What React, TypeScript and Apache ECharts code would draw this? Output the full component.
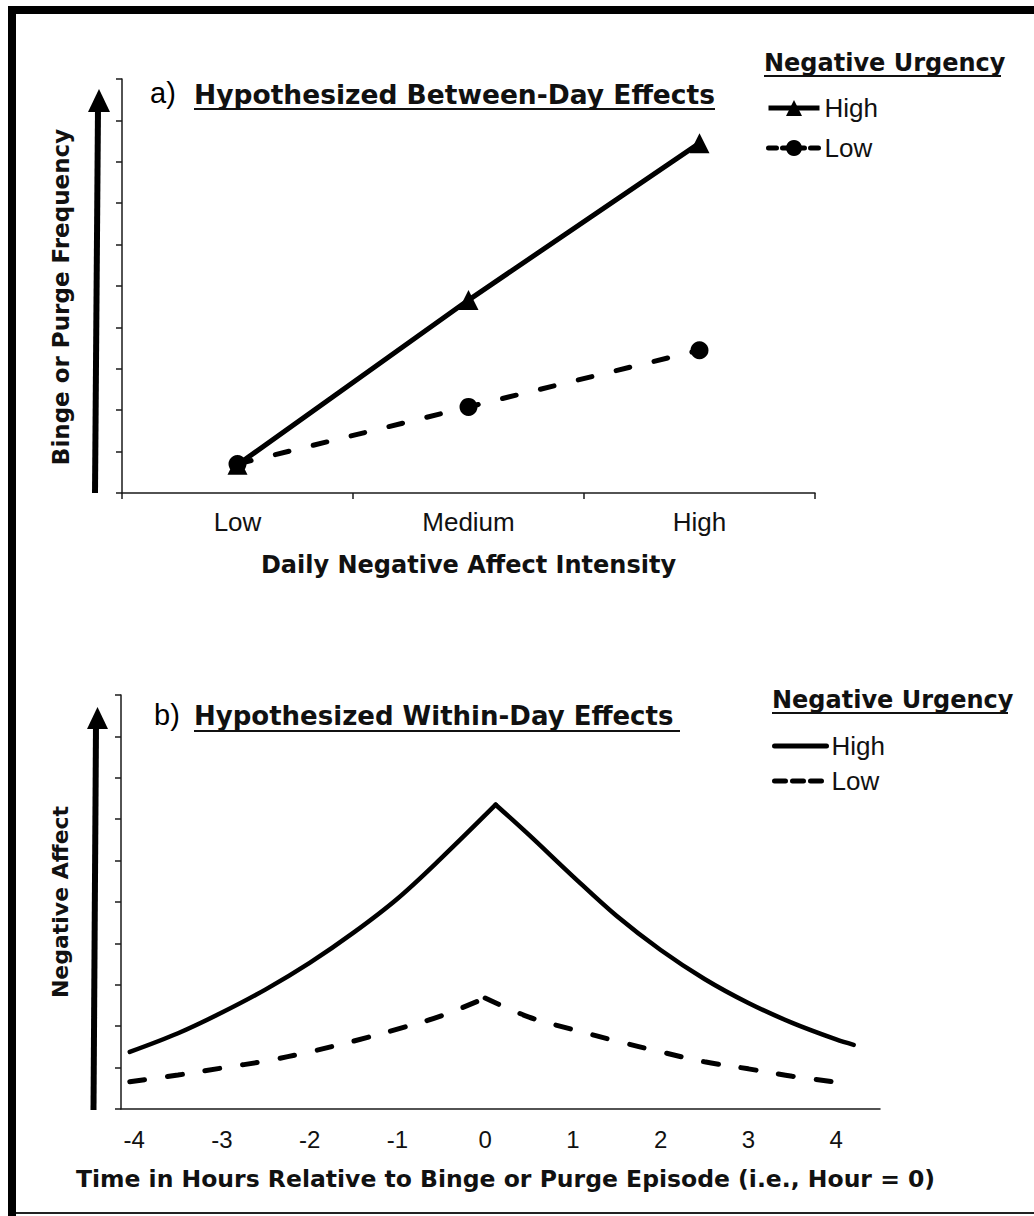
import React, { useEffect, useRef } from 'react';
import * as echarts from 'echarts';

// ---- Panel a: between-day effects ----
const affectLevels = ['Low', 'Medium', 'High'];
const betweenHighUrgency = [0.68, 4.66, 8.45];
const betweenLowUrgency = [0.7, 2.08, 3.45];

// ---- Panel b: within-day effects ----
const hourTicks = [-4, -3, -2, -1, 0, 1, 2, 3, 4];
const highRiseHours = [-4.05, -3.5, -3, -2.5, -2, -1.5, -1, -0.5, 0.12];
const highRiseValues = [1.38, 1.83, 2.33, 2.89, 3.53, 4.26, 5.08, 6.06, 7.35];
const highFallHours = [0.12, 0.5, 1, 1.5, 2, 2.5, 3, 3.5, 4, 4.2];
const highFallValues = [7.35, 6.62, 5.62, 4.66, 3.84, 3.14, 2.56, 2.08, 1.68, 1.55];
const lowRiseHours = [-4.05, -3.5, -3, -2.5, -2, -1.5, -1, -0.5, 0];
const lowRiseValues = [0.66, 0.82, 0.99, 1.16, 1.38, 1.64, 1.93, 2.25, 2.68];
const lowFallHours = [0, 0.5, 1, 1.5, 2, 2.5, 3, 3.5, 4];
const lowFallValues = [2.68, 2.22, 1.92, 1.64, 1.38, 1.14, 0.97, 0.79, 0.65];

const BOLD = "'DejaVu Sans', sans-serif";
const REG = "'Liberation Sans', Arial, sans-serif";
const INK = '#000';

const zip = (h: number[], v: number[]) => h.map((x, i) => [x, v[i]]);

export default function App() {
  const ref = useRef<HTMLDivElement>(null);

  useEffect(() => {
    const chart = echarts.init(ref.current!, null, { renderer: 'svg' });
    const axisLine = { color: '#1a1a1a', width: 1.5 };
    const nameStyle = { color: '#111', fontFamily: BOLD, fontWeight: 'bold' as const };
    const solidB = { color: INK, width: 4.5, type: 'solid' as const, cap: 'round' as const };
    const dashB = { color: INK, width: 5, type: [15, 23], cap: 'round' as const };
    const withinName = ' (within-day)';

    const option: any = {
      animation: false,
      backgroundColor: '#ffffff',
      grid: [
        { left: 122, top: 79, width: 693, height: 414 },
        { left: 121, top: 695, width: 759, height: 414 },
      ],
      xAxis: [
        {
          gridIndex: 0,
          type: 'category',
          data: affectLevels,
          boundaryGap: true,
          axisLine: { lineStyle: axisLine },
          axisTick: { show: true, length: 6, lineStyle: axisLine },
          axisLabel: { color: '#111', fontFamily: REG, fontSize: 26, margin: 16 },
          name: 'Daily Negative Affect Intensity',
          nameLocation: 'middle',
          nameGap: 60,
          nameTextStyle: { ...nameStyle, fontSize: 24 },
        },
        {
          gridIndex: 1,
          type: 'value',
          min: -4.15,
          max: 4.5,
          axisLine: { onZero: false, lineStyle: axisLine },
          axisTick: { show: false },
          splitLine: { show: false },
          axisLabel: {
            customValues: hourTicks,
            formatter: (v: number) => String(v),
            color: '#111',
            fontFamily: REG,
            fontSize: 24,
            margin: 18,
          },
          name: 'Time in Hours Relative to Binge or Purge Episode (i.e., Hour = 0)',
          nameLocation: 'middle',
          nameGap: 58,
          nameTextStyle: { ...nameStyle, fontSize: 23.5, padding: [0, 0, 0, 10] },
        },
      ],
      yAxis: [
        {
          gridIndex: 0,
          type: 'value',
          min: 0,
          max: 10,
          interval: 1,
          axisLine: { show: true, onZero: false, lineStyle: axisLine },
          axisTick: { show: true, length: 6, lineStyle: axisLine },
          axisLabel: { show: false },
          splitLine: { show: false },
          name: 'Binge or Purge Frequency',
          nameLocation: 'middle',
          nameRotate: 90,
          nameGap: 50,
          nameTextStyle: { ...nameStyle, fontSize: 23, padding: [0, 22, 0, 0] },
        },
        {
          gridIndex: 1,
          type: 'value',
          min: 0,
          max: 10,
          interval: 1,
          axisLine: { show: true, onZero: false, lineStyle: axisLine },
          axisTick: { show: true, length: 6, lineStyle: axisLine },
          axisLabel: { show: false },
          splitLine: { show: false },
          name: 'Negative Affect',
          nameLocation: 'middle',
          nameRotate: 90,
          nameGap: 50,
          nameTextStyle: { ...nameStyle, fontSize: 22 },
        },
      ],
      legend: [
        {
          orient: 'vertical',
          left: 766,
          top: 95,
          padding: 0,
          itemWidth: 51,
          itemHeight: 20,
          itemGap: 14,
          selectedMode: false,
          lineStyle: { width: 5 },
          data: ['High', { name: 'Low', lineStyle: { type: [8, 6] } }],
          textStyle: { fontFamily: REG, fontSize: 26, color: '#111' },
        },
        {
          orient: 'vertical',
          left: 772,
          top: 733,
          padding: 0,
          itemWidth: 52,
          itemHeight: 20,
          itemGap: 9,
          selectedMode: false,
          lineStyle: { width: 5 },
          data: [
            { name: 'High' + withinName, itemStyle: { opacity: 0 } },
            { name: 'Low' + withinName, itemStyle: { opacity: 0 }, lineStyle: { type: [11, 7] } },
          ],
          formatter: (n: string) => n.replace(withinName, ''),
          textStyle: { fontFamily: REG, fontSize: 26, color: '#111' },
        },
      ],
      series: [
        {
          name: 'High',
          type: 'line',
          xAxisIndex: 0,
          yAxisIndex: 0,
          data: betweenHighUrgency,
          symbol: 'triangle',
          symbolSize: [20, 20],
          lineStyle: { color: INK, width: 5 },
          itemStyle: { color: INK },
          z: 3,
        },
        {
          name: 'Low',
          type: 'line',
          xAxisIndex: 0,
          yAxisIndex: 0,
          data: betweenLowUrgency,
          symbol: 'circle',
          symbolSize: 18,
          lineStyle: { color: INK, width: 5, type: [14, 25], cap: 'round' },
          itemStyle: { color: INK },
          z: 4,
        },
        {
          name: 'High' + withinName,
          type: 'line',
          xAxisIndex: 1,
          yAxisIndex: 1,
          data: zip(highRiseHours, highRiseValues),
          symbol: 'none',
          smooth: 0.35,
          lineStyle: solidB,
          itemStyle: { color: INK },
        },
        {
          name: 'High' + withinName,
          type: 'line',
          xAxisIndex: 1,
          yAxisIndex: 1,
          data: zip(highFallHours, highFallValues),
          symbol: 'none',
          smooth: 0.35,
          lineStyle: solidB,
          itemStyle: { color: INK },
        },
        {
          name: 'Low' + withinName,
          type: 'line',
          xAxisIndex: 1,
          yAxisIndex: 1,
          data: zip(lowRiseHours, lowRiseValues),
          symbol: 'none',
          smooth: 0.35,
          lineStyle: dashB,
          itemStyle: { color: INK },
        },
        {
          name: 'Low' + withinName,
          type: 'line',
          xAxisIndex: 1,
          yAxisIndex: 1,
          data: zip(lowFallHours, lowFallValues),
          symbol: 'none',
          smooth: 0.35,
          lineStyle: dashB,
          itemStyle: { color: INK },
        },
      ],
      graphic: [
        // frame
        { type: 'rect', shape: { x: 8, y: 6, width: 1026, height: 8 }, style: { fill: INK } },
        { type: 'rect', shape: { x: 8, y: 6, width: 8, height: 1210 }, style: { fill: INK } },
        { type: 'line', shape: { x1: 16, y1: 1213, x2: 1034, y2: 1213 }, style: { stroke: '#222', lineWidth: 2 } },
        // arrows
        { type: 'line', shape: { x1: 95, y1: 493, x2: 98, y2: 108 }, style: { stroke: INK, lineWidth: 6 } },
        { type: 'polygon', shape: { points: [[88, 112], [110, 112], [99, 89]] }, style: { fill: INK } },
        { type: 'line', shape: { x1: 93.5, y1: 1110, x2: 96, y2: 725 }, style: { stroke: INK, lineWidth: 6 } },
        { type: 'polygon', shape: { points: [[87, 729], [108, 729], [97.5, 707]] }, style: { fill: INK } },
        // panel titles
        { type: 'text', x: 150, y: 93, style: { text: 'a)', fontFamily: REG, fontSize: 29, fill: INK, align: 'left', verticalAlign: 'middle' } },
        { type: 'text', x: 194, y: 94, style: { text: 'Hypothesized Between-Day Effects', fontFamily: BOLD, fontWeight: 'bold', fontSize: 26.5, fill: '#111', align: 'left', verticalAlign: 'middle' } },
        { type: 'line', shape: { x1: 194, y1: 109, x2: 715, y2: 109 }, style: { stroke: '#111', lineWidth: 2 } },
        { type: 'text', x: 154, y: 715, style: { text: 'b)', fontFamily: REG, fontSize: 29, fill: INK, align: 'left', verticalAlign: 'middle' } },
        { type: 'text', x: 194, y: 716, style: { text: 'Hypothesized Within-Day Effects', fontFamily: BOLD, fontWeight: 'bold', fontSize: 26, fill: '#111', align: 'left', verticalAlign: 'middle' } },
        { type: 'line', shape: { x1: 194, y1: 731, x2: 680, y2: 731 }, style: { stroke: '#111', lineWidth: 2 } },
        // legend titles
        { type: 'text', x: 764, y: 63, style: { text: 'Negative Urgency', fontFamily: BOLD, fontWeight: 'bold', fontSize: 24, fill: '#111', align: 'left', verticalAlign: 'middle' } },
        { type: 'line', shape: { x1: 764, y1: 76, x2: 1001, y2: 76 }, style: { stroke: '#111', lineWidth: 2 } },
        { type: 'text', x: 772, y: 700, style: { text: 'Negative Urgency', fontFamily: BOLD, fontWeight: 'bold', fontSize: 24, fill: '#111', align: 'left', verticalAlign: 'middle' } },
        { type: 'line', shape: { x1: 772, y1: 713, x2: 1008, y2: 713 }, style: { stroke: '#111', lineWidth: 2 } },
      ],
    };

    chart.setOption(option);
    return () => chart.dispose();
  }, []);

  return (
    <div
      ref={ref}
      style={{ position: 'absolute', left: 0, top: 0, width: 1034, height: 1216, background: '#fff' }}
    />
  );
}
